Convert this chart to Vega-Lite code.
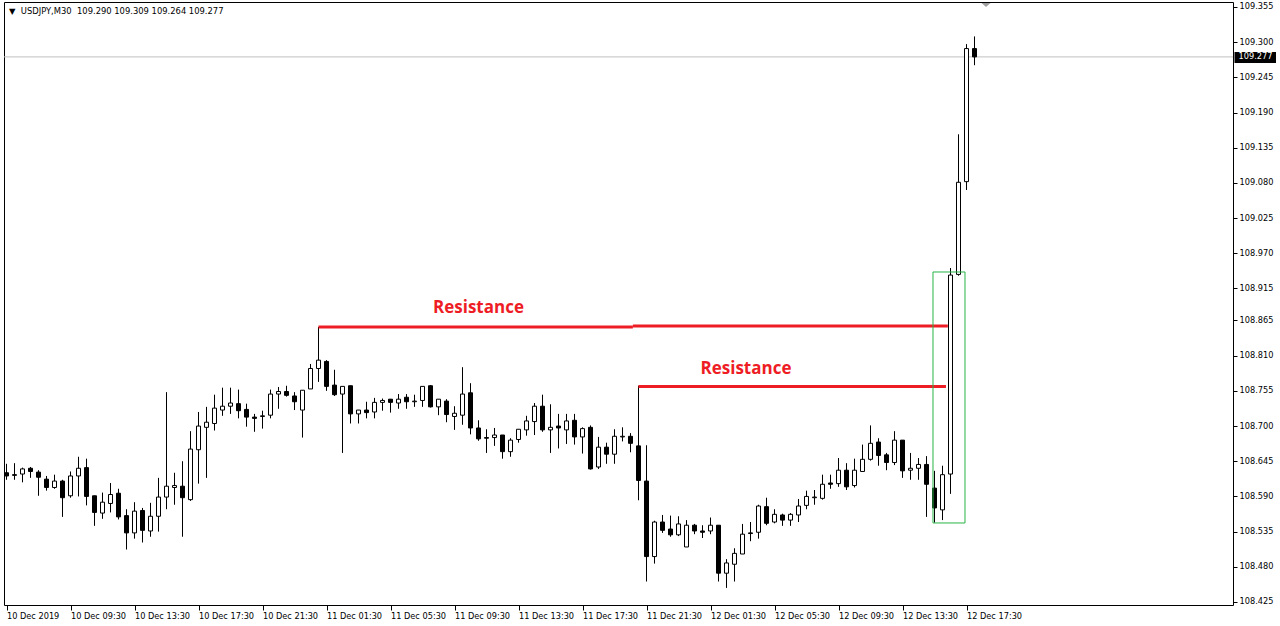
{
  "$schema": "https://vega.github.io/schema/vega-lite/v6.json",
  "width": 1229,
  "height": 603,
  "padding": {"left": 3, "top": 1, "right": 0, "bottom": 0},
  "background": "white",
  "title": {
    "text": "▼\u00a0 USDJPY,M30\u00a0 109.290 109.309 109.264 109.277",
    "anchor": "start",
    "frame": "group",
    "orient": "top",
    "offset": -13,
    "dx": 5,
    "font": "DejaVu Sans",
    "fontSize": 8.4,
    "fontWeight": "normal",
    "color": "black"
  },
  "config": {
    "view": {"stroke": "black", "strokeWidth": 1},
    "scale": {"continuousPadding": 0},
    "axis": {"grid": false, "domain": false, "title": null, "labelOverlap": false, "labelFlush": false, "labelBound": false}
  },
  "datasets": {
    "candles": [
      {"t":"2019-12-10T05:30","o":108.627,"h":108.641,"l":108.616,"c":108.622},
      {"t":"2019-12-10T06:00","o":108.624,"h":108.642,"l":108.616,"c":108.623},
      {"t":"2019-12-10T06:30","o":108.625,"h":108.635,"l":108.612,"c":108.633},
      {"t":"2019-12-10T07:00","o":108.634,"h":108.636,"l":108.619,"c":108.629},
      {"t":"2019-12-10T07:30","o":108.628,"h":108.631,"l":108.591,"c":108.620},
      {"t":"2019-12-10T08:00","o":108.617,"h":108.622,"l":108.599,"c":108.604},
      {"t":"2019-12-10T08:30","o":108.604,"h":108.624,"l":108.602,"c":108.614},
      {"t":"2019-12-10T09:00","o":108.614,"h":108.616,"l":108.558,"c":108.588},
      {"t":"2019-12-10T09:30","o":108.591,"h":108.629,"l":108.588,"c":108.622},
      {"t":"2019-12-10T10:00","o":108.622,"h":108.652,"l":108.590,"c":108.634},
      {"t":"2019-12-10T10:30","o":108.635,"h":108.649,"l":108.576,"c":108.590},
      {"t":"2019-12-10T11:00","o":108.591,"h":108.591,"l":108.544,"c":108.565},
      {"t":"2019-12-10T11:30","o":108.564,"h":108.596,"l":108.555,"c":108.581},
      {"t":"2019-12-10T12:00","o":108.579,"h":108.611,"l":108.565,"c":108.593},
      {"t":"2019-12-10T12:30","o":108.595,"h":108.602,"l":108.554,"c":108.558},
      {"t":"2019-12-10T13:00","o":108.560,"h":108.570,"l":108.507,"c":108.533},
      {"t":"2019-12-10T13:30","o":108.533,"h":108.581,"l":108.524,"c":108.567},
      {"t":"2019-12-10T14:00","o":108.568,"h":108.572,"l":108.518,"c":108.537},
      {"t":"2019-12-10T14:30","o":108.536,"h":108.580,"l":108.527,"c":108.559},
      {"t":"2019-12-10T15:00","o":108.559,"h":108.619,"l":108.535,"c":108.589},
      {"t":"2019-12-10T15:30","o":108.589,"h":108.753,"l":108.570,"c":108.606},
      {"t":"2019-12-10T16:00","o":108.604,"h":108.627,"l":108.577,"c":108.607},
      {"t":"2019-12-10T16:30","o":108.606,"h":108.645,"l":108.527,"c":108.588},
      {"t":"2019-12-10T17:00","o":108.585,"h":108.692,"l":108.583,"c":108.664},
      {"t":"2019-12-10T17:30","o":108.663,"h":108.722,"l":108.610,"c":108.700},
      {"t":"2019-12-10T18:00","o":108.698,"h":108.730,"l":108.619,"c":108.706},
      {"t":"2019-12-10T18:30","o":108.704,"h":108.749,"l":108.693,"c":108.728},
      {"t":"2019-12-10T19:00","o":108.725,"h":108.760,"l":108.716,"c":108.731},
      {"t":"2019-12-10T19:30","o":108.731,"h":108.760,"l":108.719,"c":108.736},
      {"t":"2019-12-10T20:00","o":108.735,"h":108.757,"l":108.712,"c":108.724},
      {"t":"2019-12-10T20:30","o":108.726,"h":108.735,"l":108.699,"c":108.714},
      {"t":"2019-12-10T21:00","o":108.714,"h":108.719,"l":108.691,"c":108.712},
      {"t":"2019-12-10T21:30","o":108.715,"h":108.724,"l":108.696,"c":108.716},
      {"t":"2019-12-10T22:00","o":108.717,"h":108.757,"l":108.712,"c":108.750},
      {"t":"2019-12-10T22:30","o":108.750,"h":108.761,"l":108.727,"c":108.754},
      {"t":"2019-12-10T23:00","o":108.754,"h":108.763,"l":108.746,"c":108.748},
      {"t":"2019-12-10T23:30","o":108.747,"h":108.753,"l":108.725,"c":108.738},
      {"t":"2019-12-11T00:00","o":108.725,"h":108.756,"l":108.682,"c":108.756},
      {"t":"2019-12-11T00:30","o":108.758,"h":108.797,"l":108.758,"c":108.790},
      {"t":"2019-12-11T01:00","o":108.790,"h":108.855,"l":108.769,"c":108.803},
      {"t":"2019-12-11T01:30","o":108.801,"h":108.803,"l":108.755,"c":108.762},
      {"t":"2019-12-11T02:00","o":108.764,"h":108.788,"l":108.747,"c":108.749},
      {"t":"2019-12-11T02:30","o":108.750,"h":108.762,"l":108.658,"c":108.762},
      {"t":"2019-12-11T03:00","o":108.763,"h":108.763,"l":108.704,"c":108.719},
      {"t":"2019-12-11T03:30","o":108.719,"h":108.725,"l":108.704,"c":108.725},
      {"t":"2019-12-11T04:00","o":108.725,"h":108.738,"l":108.712,"c":108.721},
      {"t":"2019-12-11T04:30","o":108.722,"h":108.744,"l":108.712,"c":108.737},
      {"t":"2019-12-11T05:00","o":108.737,"h":108.743,"l":108.724,"c":108.740},
      {"t":"2019-12-11T05:30","o":108.742,"h":108.742,"l":108.721,"c":108.737},
      {"t":"2019-12-11T06:00","o":108.736,"h":108.750,"l":108.727,"c":108.742},
      {"t":"2019-12-11T06:30","o":108.745,"h":108.750,"l":108.727,"c":108.738},
      {"t":"2019-12-11T07:00","o":108.738,"h":108.749,"l":108.730,"c":108.739},
      {"t":"2019-12-11T07:30","o":108.740,"h":108.762,"l":108.730,"c":108.762},
      {"t":"2019-12-11T08:00","o":108.763,"h":108.764,"l":108.729,"c":108.730},
      {"t":"2019-12-11T08:30","o":108.730,"h":108.742,"l":108.717,"c":108.742},
      {"t":"2019-12-11T09:00","o":108.739,"h":108.742,"l":108.706,"c":108.718},
      {"t":"2019-12-11T09:30","o":108.715,"h":108.731,"l":108.694,"c":108.720},
      {"t":"2019-12-11T10:00","o":108.717,"h":108.792,"l":108.702,"c":108.750},
      {"t":"2019-12-11T10:30","o":108.752,"h":108.767,"l":108.687,"c":108.697},
      {"t":"2019-12-11T11:00","o":108.697,"h":108.709,"l":108.677,"c":108.680},
      {"t":"2019-12-11T11:30","o":108.682,"h":108.695,"l":108.658,"c":108.681},
      {"t":"2019-12-11T12:00","o":108.682,"h":108.697,"l":108.669,"c":108.686},
      {"t":"2019-12-11T12:30","o":108.686,"h":108.686,"l":108.649,"c":108.660},
      {"t":"2019-12-11T13:00","o":108.660,"h":108.681,"l":108.652,"c":108.678},
      {"t":"2019-12-11T13:30","o":108.679,"h":108.695,"l":108.674,"c":108.695},
      {"t":"2019-12-11T14:00","o":108.694,"h":108.716,"l":108.685,"c":108.708},
      {"t":"2019-12-11T14:30","o":108.707,"h":108.736,"l":108.686,"c":108.731},
      {"t":"2019-12-11T15:00","o":108.731,"h":108.749,"l":108.691,"c":108.694},
      {"t":"2019-12-11T15:30","o":108.694,"h":108.734,"l":108.658,"c":108.698},
      {"t":"2019-12-11T16:00","o":108.700,"h":108.719,"l":108.665,"c":108.697},
      {"t":"2019-12-11T16:30","o":108.694,"h":108.719,"l":108.672,"c":108.708},
      {"t":"2019-12-11T17:00","o":108.709,"h":108.719,"l":108.671,"c":108.683},
      {"t":"2019-12-11T17:30","o":108.683,"h":108.698,"l":108.657,"c":108.696},
      {"t":"2019-12-11T18:00","o":108.698,"h":108.701,"l":108.632,"c":108.633},
      {"t":"2019-12-11T18:30","o":108.636,"h":108.683,"l":108.633,"c":108.667},
      {"t":"2019-12-11T19:00","o":108.667,"h":108.674,"l":108.641,"c":108.656},
      {"t":"2019-12-11T19:30","o":108.656,"h":108.695,"l":108.641,"c":108.684},
      {"t":"2019-12-11T20:00","o":108.683,"h":108.698,"l":108.676,"c":108.684},
      {"t":"2019-12-11T20:30","o":108.684,"h":108.689,"l":108.659,"c":108.673},
      {"t":"2019-12-11T21:00","o":108.669,"h":108.763,"l":108.584,"c":108.615},
      {"t":"2019-12-11T21:30","o":108.614,"h":108.670,"l":108.457,"c":108.496},
      {"t":"2019-12-11T22:00","o":108.496,"h":108.552,"l":108.485,"c":108.550},
      {"t":"2019-12-11T22:30","o":108.550,"h":108.561,"l":108.533,"c":108.537},
      {"t":"2019-12-11T23:00","o":108.539,"h":108.560,"l":108.527,"c":108.530},
      {"t":"2019-12-11T23:30","o":108.530,"h":108.559,"l":108.528,"c":108.547},
      {"t":"2019-12-12T00:00","o":108.511,"h":108.553,"l":108.511,"c":108.545},
      {"t":"2019-12-12T00:30","o":108.545,"h":108.547,"l":108.531,"c":108.536},
      {"t":"2019-12-12T01:00","o":108.536,"h":108.545,"l":108.525,"c":108.534},
      {"t":"2019-12-12T01:30","o":108.536,"h":108.557,"l":108.531,"c":108.545},
      {"t":"2019-12-12T02:00","o":108.545,"h":108.545,"l":108.457,"c":108.470},
      {"t":"2019-12-12T02:30","o":108.470,"h":108.492,"l":108.447,"c":108.486},
      {"t":"2019-12-12T03:00","o":108.484,"h":108.509,"l":108.457,"c":108.501},
      {"t":"2019-12-12T03:30","o":108.500,"h":108.547,"l":108.500,"c":108.531},
      {"t":"2019-12-12T04:00","o":108.533,"h":108.550,"l":108.520,"c":108.532},
      {"t":"2019-12-12T04:30","o":108.534,"h":108.577,"l":108.524,"c":108.575},
      {"t":"2019-12-12T05:00","o":108.574,"h":108.588,"l":108.545,"c":108.548},
      {"t":"2019-12-12T05:30","o":108.550,"h":108.570,"l":108.548,"c":108.562},
      {"t":"2019-12-12T06:00","o":108.561,"h":108.563,"l":108.544,"c":108.553},
      {"t":"2019-12-12T06:30","o":108.553,"h":108.564,"l":108.544,"c":108.562},
      {"t":"2019-12-12T07:00","o":108.561,"h":108.586,"l":108.550,"c":108.575},
      {"t":"2019-12-12T07:30","o":108.576,"h":108.599,"l":108.570,"c":108.590},
      {"t":"2019-12-12T08:00","o":108.588,"h":108.600,"l":108.577,"c":108.589},
      {"t":"2019-12-12T08:30","o":108.587,"h":108.624,"l":108.585,"c":108.609},
      {"t":"2019-12-12T09:00","o":108.611,"h":108.624,"l":108.602,"c":108.609},
      {"t":"2019-12-12T09:30","o":108.610,"h":108.650,"l":108.605,"c":108.631},
      {"t":"2019-12-12T10:00","o":108.631,"h":108.642,"l":108.600,"c":108.605},
      {"t":"2019-12-12T10:30","o":108.607,"h":108.649,"l":108.604,"c":108.631},
      {"t":"2019-12-12T11:00","o":108.629,"h":108.671,"l":108.629,"c":108.648},
      {"t":"2019-12-12T11:30","o":108.648,"h":108.701,"l":108.646,"c":108.673},
      {"t":"2019-12-12T12:00","o":108.675,"h":108.681,"l":108.638,"c":108.654},
      {"t":"2019-12-12T12:30","o":108.655,"h":108.658,"l":108.631,"c":108.643},
      {"t":"2019-12-12T13:00","o":108.643,"h":108.692,"l":108.639,"c":108.678},
      {"t":"2019-12-12T13:30","o":108.678,"h":108.678,"l":108.619,"c":108.630},
      {"t":"2019-12-12T14:00","o":108.631,"h":108.658,"l":108.616,"c":108.634},
      {"t":"2019-12-12T14:30","o":108.634,"h":108.650,"l":108.616,"c":108.640},
      {"t":"2019-12-12T15:00","o":108.640,"h":108.653,"l":108.558,"c":108.609},
      {"t":"2019-12-12T15:30","o":108.603,"h":108.630,"l":108.549,"c":108.572},
      {"t":"2019-12-12T16:00","o":108.569,"h":108.638,"l":108.553,"c":108.624},
      {"t":"2019-12-12T16:30","o":108.625,"h":108.947,"l":108.594,"c":108.936},
      {"t":"2019-12-12T17:00","o":108.937,"h":109.156,"l":108.935,"c":109.081},
      {"t":"2019-12-12T17:30","o":109.082,"h":109.297,"l":109.069,"c":109.290},
      {"t":"2019-12-12T18:00","o":109.290,"h":109.309,"l":109.264,"c":109.277}
    ]
  },
  "data": {"name": "candles"},
  "layer": [
    {
      "data": {"values": [{"price": 109.277}]},
      "mark": {"type": "rule", "stroke": "#c0c0c0", "strokeWidth": 1},
      "encoding": {
        "y": {
          "field": "price", "type": "quantitative",
          "scale": {"domain": [108.4203, 109.3628], "nice": false, "zero": false, "padding": 0},
          "axis": {
            "orient": "right",
            "values": [108.425, 108.48, 108.535, 108.59, 108.645, 108.7, 108.755, 108.81, 108.865, 108.915, 108.97, 109.025, 109.08, 109.135, 109.19, 109.245, 109.3, 109.355],
            "tickCount": 40,
            "format": ".3f",
            "labelFont": "DejaVu Sans",
            "labelFontSize": 8.2,
            "labelColor": "black",
            "labelPadding": 2,
            "labelOverlap": false,
            "labelFlush": false,
            "labelBound": false,
            "tickColor": "black",
            "tickSize": 4,
            "tickWidth": 1
          }
        }
      }
    },
    {
      "mark": {"type": "rule", "stroke": "black", "strokeWidth": 1},
      "encoding": {
        "x": {
          "field": "t", "type": "temporal",
          "scale": {"padding": 0, "nice": false, "domain": [
            {"year": 2019, "month": 12, "date": 10, "hours": 5, "minutes": 20, "seconds": 37, "milliseconds": 500},
            {"year": 2019, "month": 12, "date": 13, "hours": 10, "minutes": 9, "seconds": 22, "milliseconds": 500}
          ]},
          "axis": {
            "orient": "bottom",
            "values": [
              {"year": 2019, "month": 12, "date": 10, "hours": 5, "minutes": 30},
              {"year": 2019, "month": 12, "date": 10, "hours": 9, "minutes": 30},
              {"year": 2019, "month": 12, "date": 10, "hours": 13, "minutes": 30},
              {"year": 2019, "month": 12, "date": 10, "hours": 17, "minutes": 30},
              {"year": 2019, "month": 12, "date": 10, "hours": 21, "minutes": 30},
              {"year": 2019, "month": 12, "date": 11, "hours": 1, "minutes": 30},
              {"year": 2019, "month": 12, "date": 11, "hours": 5, "minutes": 30},
              {"year": 2019, "month": 12, "date": 11, "hours": 9, "minutes": 30},
              {"year": 2019, "month": 12, "date": 11, "hours": 13, "minutes": 30},
              {"year": 2019, "month": 12, "date": 11, "hours": 17, "minutes": 30},
              {"year": 2019, "month": 12, "date": 11, "hours": 21, "minutes": 30},
              {"year": 2019, "month": 12, "date": 12, "hours": 1, "minutes": 30},
              {"year": 2019, "month": 12, "date": 12, "hours": 5, "minutes": 30},
              {"year": 2019, "month": 12, "date": 12, "hours": 9, "minutes": 30},
              {"year": 2019, "month": 12, "date": 12, "hours": 13, "minutes": 30},
              {"year": 2019, "month": 12, "date": 12, "hours": 17, "minutes": 30}
            ],
            "tickCount": 40,
            "labelExpr": "timeFormat(datum.value, '%d %b %H:%M') == '10 Dec 05:30' ? '10 Dec 2019' : timeFormat(datum.value, '%d %b %H:%M')",
            "labelAlign": "left",
            "labelBaseline": "top",
            "labelDx": -1,
            "labelPadding": 2,
            "labelFont": "DejaVu Sans",
            "labelFontSize": 8.2,
            "labelColor": "black",
            "labelOverlap": false,
            "labelFlush": false,
            "labelBound": false,
            "tickColor": "black",
            "tickSize": 5,
            "tickWidth": 1
          }
        },
        "y": {
          "field": "l", "type": "quantitative",
          "scale": {"domain": [108.4203, 109.3628], "nice": false, "zero": false, "padding": 0},
          "axis": {
            "orient": "right",
            "values": [108.425, 108.48, 108.535, 108.59, 108.645, 108.7, 108.755, 108.81, 108.865, 108.915, 108.97, 109.025, 109.08, 109.135, 109.19, 109.245, 109.3, 109.355],
            "tickCount": 40,
            "format": ".3f",
            "labelFont": "DejaVu Sans",
            "labelFontSize": 8.2,
            "labelColor": "black",
            "labelPadding": 2,
            "labelOverlap": false,
            "labelFlush": false,
            "labelBound": false,
            "tickColor": "black",
            "tickSize": 4,
            "tickWidth": 1
          }
        },
        "y2": {"field": "h"}
      }
    },
    {
      "mark": {"type": "bar", "width": 4, "stroke": "black", "strokeWidth": 1},
      "encoding": {
        "x": {"field": "t", "type": "temporal"},
        "y": {"field": "o", "type": "quantitative"},
        "y2": {"field": "c"},
        "fill": {"condition": {"test": "datum.c >= datum.o", "value": "white"}, "value": "black"}
      }
    },
    {
      "data": {"values": [
        {"t1": "2019-12-11T01:00", "t2": "2019-12-11T20:39", "p": 108.855},
        {"t1": "2019-12-11T20:39", "t2": "2019-12-12T16:20", "p": 108.8565},
        {"t1": "2019-12-11T21:00", "t2": "2019-12-12T16:13", "p": 108.762}
      ]},
      "mark": {"type": "rule", "stroke": "#ee1c24", "strokeWidth": 3},
      "encoding": {
        "x": {"field": "t1", "type": "temporal"},
        "x2": {"field": "t2"},
        "y": {"field": "p", "type": "quantitative"}
      }
    },
    {
      "data": {"values": [
        {"t": "2019-12-11T11:00", "p": 108.8846, "label": "Resistance"},
        {"t": "2019-12-12T03:43", "p": 108.7892, "label": "Resistance"}
      ]},
      "mark": {"type": "text", "font": "Open Sans", "fontWeight": "bold", "fontSize": 17, "fill": "#ee1c24", "align": "center", "baseline": "middle"},
      "encoding": {
        "x": {"field": "t", "type": "temporal"},
        "y": {"field": "p", "type": "quantitative"},
        "text": {"field": "label"}
      }
    },
    {
      "data": {"values": [
        {"t1": "2019-12-12T15:24:22", "t2": "2019-12-12T17:24:22", "p1": 108.9408, "p2": 108.5485}
      ]},
      "mark": {"type": "rect", "fill": "white", "fillOpacity": 0, "stroke": "#28b446", "strokeWidth": 1},
      "encoding": {
        "x": {"field": "t1", "type": "temporal"},
        "x2": {"field": "t2"},
        "y": {"field": "p1", "type": "quantitative"},
        "y2": {"field": "p2"}
      }
    },
    {
      "data": {"values": [{"t": "2019-12-12T18:43:07", "p": 109.3581}]},
      "mark": {"type": "point", "shape": "M-1,-0.45L1,-0.45L0,0.45Z", "size": 81, "filled": true, "fill": "#a0a0a0", "strokeWidth": 0, "opacity": 1, "clip": false},
      "encoding": {
        "x": {"field": "t", "type": "temporal"},
        "y": {"field": "p", "type": "quantitative"}
      }
    },
    {
      "data": {"values": [
        {"t1": "2019-12-13T10:15:00", "t2": "2019-12-13T12:50:37", "p1": 109.2847, "p2": 109.2675}
      ]},
      "mark": {"type": "rect", "fill": "black", "clip": false},
      "encoding": {
        "x": {"field": "t1", "type": "temporal"},
        "x2": {"field": "t2"},
        "y": {"field": "p1", "type": "quantitative"},
        "y2": {"field": "p2"}
      }
    },
    {
      "data": {"values": [{"t": "2019-12-13T10:30:00", "p": 109.277, "label": "109.277"}]},
      "mark": {"type": "text", "font": "DejaVu Sans", "fontSize": 8.2, "fill": "white", "align": "left", "baseline": "middle", "clip": false},
      "encoding": {
        "x": {"field": "t", "type": "temporal"},
        "y": {"field": "p", "type": "quantitative"},
        "text": {"field": "label"}
      }
    }
  ]
}
